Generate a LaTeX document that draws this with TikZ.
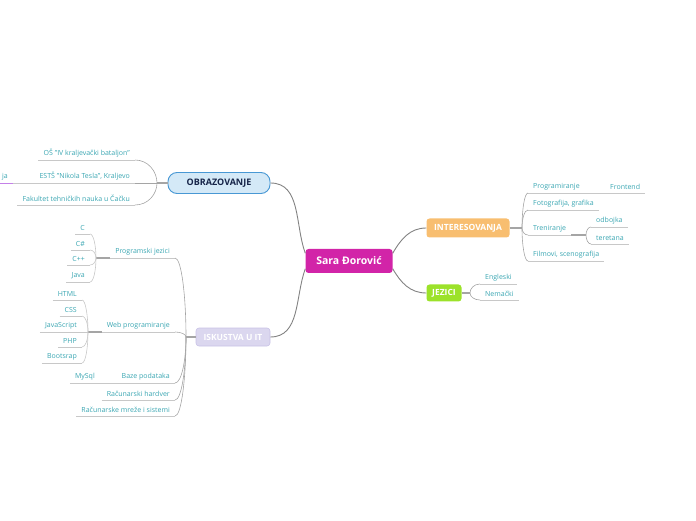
\documentclass[tikz,border=0pt]{standalone}
\usepackage{fontspec}
\setmainfont{Open Sans}
\usetikzlibrary{calc}

\definecolor{saracol}{RGB}{210,36,168}
\definecolor{obrfill}{RGB}{212,233,247}
\definecolor{obrline}{RGB}{72,152,212}
\definecolor{obrtext}{RGB}{22,36,72}
\definecolor{intfill}{RGB}{248,190,112}
\definecolor{jezfill}{RGB}{156,226,42}
\definecolor{iskfill}{RGB}{219,215,239}
\definecolor{iskline}{RGB}{200,194,230}
\definecolor{leaftext}{RGB}{58,166,178}
\definecolor{linegray}{RGB}{200,200,200}
\definecolor{twiggray}{RGB}{165,165,165}
\definecolor{trunkgray}{RGB}{130,130,130}
\definecolor{jaline}{RGB}{196,128,232}

\begin{document}
\begin{tikzpicture}[x=1pt,y=1pt,font=\fontsize{7}{8}\selectfont]
    \tikzset{
      topic/.style={rounded corners=3pt, text=white, inner sep=0pt,
        minimum height=18pt, font=\fontsize{8.5}{9}\selectfont\bfseries},
      leaf/.style={text=leaftext, inner xsep=5pt, inner ysep=3pt,
        append after command={(\tikzlastnode.south west) edge[uline, draw=#1] (\tikzlastnode.south east)}},
      leaf/.default=linegray,
      lleaf/.style={leaf=#1, anchor=south east},
      lleaf/.default=linegray,
      rleaf/.style={leaf=#1, anchor=south west},
      rleaf/.default=linegray,
      trunk/.style={draw=trunkgray, line width=0.9pt},
      twig/.style={draw=twiggray, line width=0.6pt},
      uline/.style={draw=linegray, line width=0.6pt},
      stub/.style={draw=twiggray, line width=1.3pt},
      fan/.style={to path={.. controls ($(\tikztostart)!0.5!(\tikztostart|-\tikztotarget)$)
        and ($(\tikztotarget)!0.6!(\tikztostart|-\tikztotarget)$) .. (\tikztotarget)}}
    }
    \useasboundingbox (0,0) rectangle (696,520);

    % Central topic
    \node[topic, fill=saracol, minimum width=87pt, minimum height=24pt,
      font=\fontsize{10.5}{12}\selectfont\bfseries] (sara) at (349,259) {Sara Đorović};
    % Main topics
    \node[topic, fill=obrfill, draw=obrline, line width=0.9pt, rounded corners=9pt,
      text=obrtext, minimum width=102pt, minimum height=21pt,
      font=\fontsize{9}{10}\selectfont\bfseries] (obr) at (219,337) {OBRAZOVANJE};
    \node[topic, fill=intfill, minimum width=83pt, minimum height=19pt] (inter) at (468,292) {INTERESOVANJA};
    \node[topic, fill=jezfill, minimum width=35pt, minimum height=17pt] (jez) at (444,227) {JEZICI};
    \node[topic, fill=iskfill, draw=iskline, line width=0.6pt, minimum width=74pt] (isk) at (233,183) {ISKUSTVA U IT};

    \coordinate (obrJ) at (157,337);
    \coordinate (intJ) at (522,292);
    \coordinate (jezJ) at (470,227);
    \coordinate (iskJ) at (186,183);

    % Obrazovanje
    \node[lleaf] (os)   at (135,360) {OŠ "IV kraljevački bataljon"};
    \node[lleaf] (ests) at (135,337) {ESTŠ "Nikola Tesla", Kraljevo};
    \node[lleaf] (fak)  at (135,315) {Fakultet tehničkih nauka u Čačku};
    \node[lleaf=jaline] (ja) at (13,337) {ja};

    % Interesovanja
    \node[rleaf] (progr) at (528,327) {Programiranje};
    \node[rleaf] (front) at (605,327) {Frontend};
    \node[rleaf] (foto)  at (528,310) {Fotografija, grafika};
    \node[rleaf] (tren)  at (528,285) {Treniranje};
    \coordinate (trenJ) at (586,285);
    \node[rleaf] (odb)   at (591,293) {odbojka};
    \node[rleaf] (ter)   at (591,276) {teretana};
    \node[rleaf] (film)  at (528,259) {Filmovi, scenografija};

    % Jezici
    \node[rleaf] (eng) at (480,236) {Engleski};
    \node[rleaf] (nem) at (480,220) {Nemački};

    % Iskustva u IT
    \node[lleaf] (pj) at (175,262) {Programski jezici};
    \coordinate (pjJ) at (96,262);
    \node[lleaf] (c)    at (90,286) {C};
    \node[lleaf] (cs)   at (90,270) {C\#};
    \node[lleaf] (cpp)  at (90,255) {C++};
    \node[lleaf] (java) at (90,238) {Java};
    \node[lleaf] (wp) at (175,188) {Web programiranje};
    \coordinate (wpJ) at (88,188);
    \node[lleaf] (html) at (82,220) {HTML};
    \node[lleaf] (css)  at (82,204) {CSS};
    \node[lleaf] (js)   at (82,188) {JavaScript};
    \node[lleaf] (php)  at (82,173) {PHP};
    \node[lleaf] (boot) at (82,157) {Bootsrap};
    \node[lleaf] (bp) at (175,137) {Baze podataka};
    \node[lleaf] (my) at (100,137) {MySql};
    \node[lleaf] (rh) at (175,120) {Računarski hardver};
    \node[lleaf] (rm) at (175,104) {Računarske mreže i sistemi};

    % Trunks
    \draw[trunk] (sara.170) to[out=110,in=0] (obr.east);
    \draw[trunk] (sara.190) to[out=250,in=0] (isk.east);
    \draw[trunk] (sara.10)  to[out=60,in=180] (inter.west);
    \draw[trunk] (sara.350) to[out=300,in=180] (jez.west);

    % Stubs
    \draw[stub] (obr.west) -- (obrJ);
    \draw[stub] (inter.east) -- (intJ);
    \draw[stub] (jez.east) -- (jezJ);
    \draw[stub] (isk.west) -- (iskJ);
    \draw[stub] (tren.south east) -- (trenJ);
    \draw[stub] (pj.south west) -- (pjJ);
    \draw[stub] (wp.south west) -- (wpJ);

    % Branches
    \draw[twig] (obrJ) to[fan] (os.south east);
    \draw[twig] (obrJ) -- (ests.south east);
    \draw[twig] (obrJ) to[fan] (fak.south east);
    \draw[uline] (ests.south west) -- (ja.south east);
    \draw[twig] (intJ) to[fan] (progr.south west);
    \draw[twig] (intJ) to[fan] (foto.south west);
    \draw[twig] (intJ) to[fan] (tren.south west);
    \draw[twig] (intJ) to[fan] (film.south west);
    \draw[uline] (progr.south east) -- (front.south west);
    \draw[twig] (trenJ) to[fan] (odb.south west);
    \draw[twig] (trenJ) to[fan] (ter.south west);
    \draw[twig] (jezJ) to[fan] (eng.south west);
    \draw[twig] (jezJ) to[fan] (nem.south west);
    \draw[twig] (iskJ) to[fan] (pj.south east);
    \draw[twig] (iskJ) to[fan] (wp.south east);
    \draw[twig] (iskJ) to[fan] (bp.south east);
    \draw[twig] (iskJ) to[fan] (rh.south east);
    \draw[twig] (iskJ) to[fan] (rm.south east);
    \draw[uline] (bp.south west) -- (my.south east);
    \draw[uline] (pjJ) to[fan] (c.south east);
    \draw[uline] (pjJ) to[fan] (cs.south east);
    \draw[uline] (pjJ) to[fan] (cpp.south east);
    \draw[uline] (pjJ) to[fan] (java.south east);
    \draw[uline] (wpJ) to[fan] (html.south east);
    \draw[uline] (wpJ) to[fan] (css.south east);
    \draw[uline] (wpJ) -- (js.south east);
    \draw[uline] (wpJ) to[fan] (php.south east);
    \draw[uline] (wpJ) to[fan] (boot.south east);
  \end{tikzpicture}
\end{document}
